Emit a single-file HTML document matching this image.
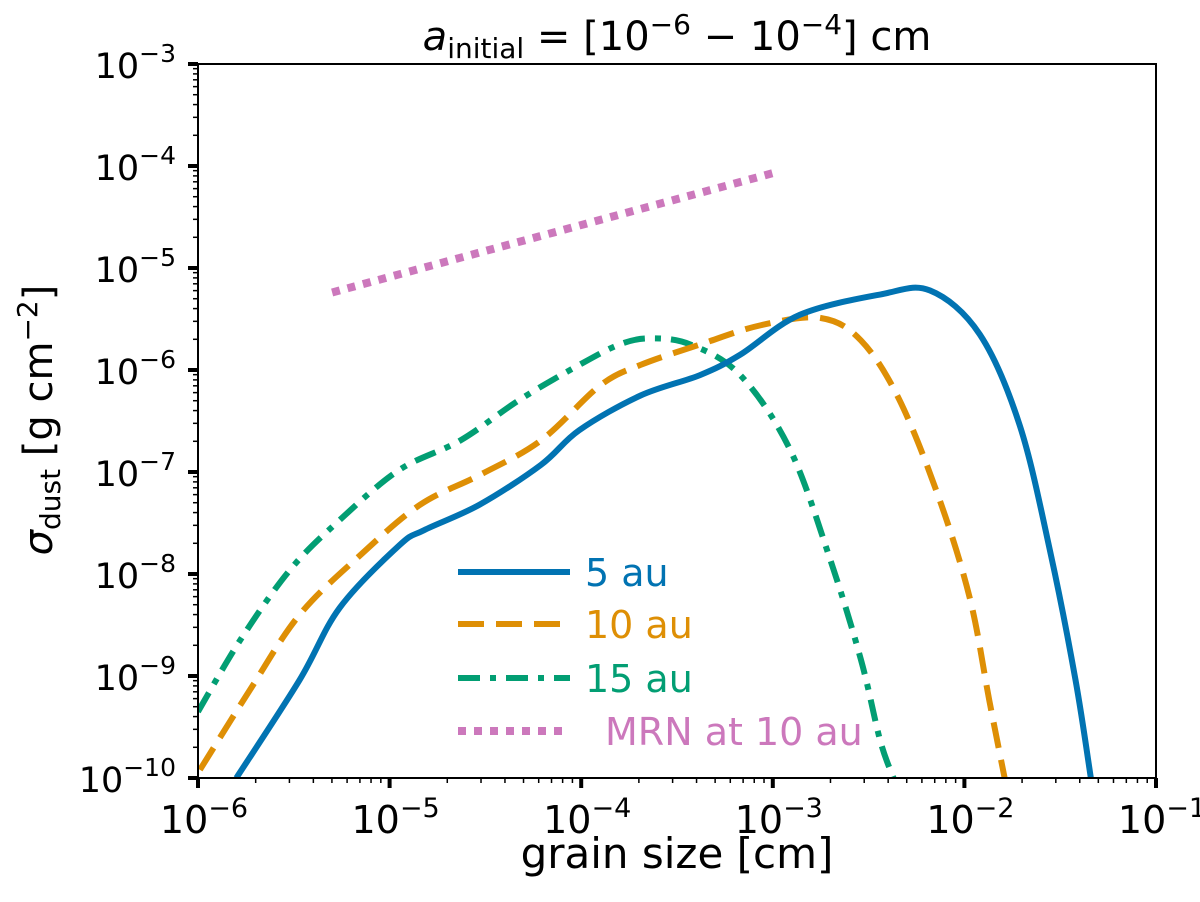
<!DOCTYPE html>
<html><head><meta charset="utf-8"><style>
body{margin:0;background:#fff}
svg text{font-family:"DejaVu Sans","Liberation Sans",sans-serif;fill:#000}
</style></head><body>
<svg id="chart" width="1200" height="897" xmlns="http://www.w3.org/2000/svg">
<g id="plot"></g>
</svg>
<script>
// log10 values
const blueX=[-5.80,-5.47,-5.26,-4.95,-4.82,-4.53,-4.21,-4.01,-3.69,-3.38,-3.17,-2.86,-2.44,-2.18,-1.92,-1.71,-1.55,-1.42,-1.34];
const blueY=[-10,-9.04,-8.33,-7.72,-7.57,-7.32,-6.93,-6.59,-6.25,-6.05,-5.85,-5.46,-5.26,-5.22,-5.65,-6.55,-7.80,-9.04,-10];
const orangeX=[-5.99,-5.73,-5.47,-5.15,-4.84,-4.53,-4.21,-3.90,-3.69,-3.38,-3.06,-2.75,-2.54,-2.34,-2.13,-1.97,-1.87,-1.79];
const orangeY=[-9.92,-9.14,-8.40,-7.81,-7.32,-7.03,-6.69,-6.15,-5.95,-5.75,-5.56,-5.49,-5.71,-6.29,-7.27,-8.25,-9.24,-10];
const greenX=[-6.0,-5.78,-5.52,-5.26,-4.95,-4.63,-4.32,-4.01,-3.80,-3.64,-3.43,-3.17,-2.91,-2.70,-2.54,-2.44,-2.37];
const greenY=[-9.35,-8.65,-7.96,-7.47,-6.98,-6.69,-6.29,-5.95,-5.75,-5.69,-5.75,-6.05,-6.78,-7.86,-8.84,-9.63,-10];
const mrnX=[-5.3,-3.0];
const mrnY=[-5.24,-4.07];
const xTicks=[-6,-5,-4,-3,-2,-1];
const yTicks=[-10,-9,-8,-7,-6,-5,-4,-3];

const L=198,R=1156,T=64,B=778;
const xs=v=>L+(v+6)/5*(R-L);
const ys=v=>B-(v+10)/7*(B-T);
const NS='http://www.w3.org/2000/svg';
const g=document.getElementById('plot');
function mk(t,a){const e=document.createElementNS(NS,t);for(const k in a)e.setAttribute(k,a[k]);g.appendChild(e);return e;}
function smooth(X,Y){const p=X.map((x,i)=>[xs(x),ys(Y[i])]);let d='M'+p[0][0]+','+p[0][1];
for(let i=0;i<p.length-1;i++){const p0=p[Math.max(0,i-1)],p1=p[i],p2=p[i+1],p3=p[Math.min(p.length-1,i+2)];
d+=' C'+(p1[0]+(p2[0]-p0[0])/6)+','+(p1[1]+(p2[1]-p0[1])/6)+' '+(p2[0]-(p3[0]-p1[0])/6)+','+(p2[1]-(p3[1]-p1[1])/6)+' '+p2[0]+','+p2[1];}return d;}

const clip=mk('clipPath',{id:'cp'});const cr=document.createElementNS(NS,'rect');
cr.setAttribute('x',L);cr.setAttribute('y',T);cr.setAttribute('width',R-L);cr.setAttribute('height',B-T);clip.appendChild(cr);

let e;
e=mk('path',{d:smooth(mrnX,mrnY),stroke:'#cc78bc','stroke-width':8,fill:'none','stroke-dasharray':'8 8','clip-path':'url(#cp)'});

e=mk('path',{d:smooth(greenX,greenY),stroke:'#029e73','stroke-width':6,fill:'none','stroke-dasharray':'22 10 6 10','clip-path':'url(#cp)'});

e=mk('path',{d:smooth(orangeX,orangeY),stroke:'#de8f05','stroke-width':6,fill:'none','stroke-dasharray':'26 12','clip-path':'url(#cp)'});

e=mk('path',{d:smooth(blueX,blueY),stroke:'#0173b2','stroke-width':6,fill:'none','clip-path':'url(#cp)'});


e=mk('rect',{x:L,y:T,width:R-L,height:B-T,fill:'none',stroke:'#000','stroke-width':2});


xTicks.forEach((t,i)=>{const x=xs(t);mk('line',{x1:x,x2:x,y1:B,y2:B+10,stroke:'#000','stroke-width':4});
if(i<xTicks.length-1)for(let k=2;k<10;k++){const xm=xs(t+Math.log10(k));mk('line',{x1:xm,x2:xm,y1:B,y2:B+5,stroke:'#000','stroke-width':1.5});}
const tx=mk('text',{x:x+6,y:B+55,'font-size':38,'text-anchor':'middle'});

tx.innerHTML='10<tspan dy="-16" font-size="27">−'+(-t)+'</tspan>';});
yTicks.forEach((t,i)=>{const y=ys(t);mk('line',{x1:L-10,x2:L,y1:y,y2:y,stroke:'#000','stroke-width':4});
if(i<yTicks.length-1)for(let k=2;k<10;k++){const ym=ys(t+Math.log10(k));mk('line',{x1:L-5,x2:L,y1:ym,y2:ym,stroke:'#000','stroke-width':1.5});}
const tx=mk('text',{x:L-22,y:y+14,'font-size':35,'text-anchor':'end'});

tx.innerHTML='10<tspan dy="-16" font-size="25">−'+(-t)+'</tspan>';});

e=mk('text',{x:677,y:868,'font-size':42,'text-anchor':'middle'});e.textContent='grain size [cm]';

e=mk('text',{x:0,y:0,'font-size':40,'text-anchor':'middle',transform:'translate(52,420) rotate(-90)'});
e.innerHTML='<tspan font-style="italic">σ</tspan><tspan font-size="28" dy="8">dust</tspan><tspan dy="-8"> [g cm</tspan><tspan font-size="28" dy="-15">−2</tspan><tspan dy="15">]</tspan>';

e=mk('text',{x:677,y:50,'font-size':40,'text-anchor':'middle'});
e.innerHTML='<tspan font-style="italic">a</tspan><tspan font-size="28" dy="8">initial</tspan><tspan dy="-8"> = [10</tspan><tspan font-size="28" dy="-16">−6</tspan><tspan dy="16"> − 10</tspan><tspan font-size="28" dy="-16">−4</tspan><tspan dy="16">] cm</tspan>';


const leg=[['5 au','#0173b2','none',572,585],['10 au','#de8f05','26 12',624,585],['15 au','#029e73','22 10 6 10',678,585],['MRN at 10 au','#cc78bc','8 8',731,605]];
leg.forEach(l=>{const ln=mk('line',{x1:458,x2:570,y1:l[3],y2:l[3],stroke:l[1],'stroke-width':l[0][0]=='M'?8:6,'stroke-dasharray':l[2]});

const t=mk('text',{x:l[4],y:l[3]+14,'font-size':38});t.style.fill=l[1];t.textContent=l[0];
});
</script>
</body></html>
